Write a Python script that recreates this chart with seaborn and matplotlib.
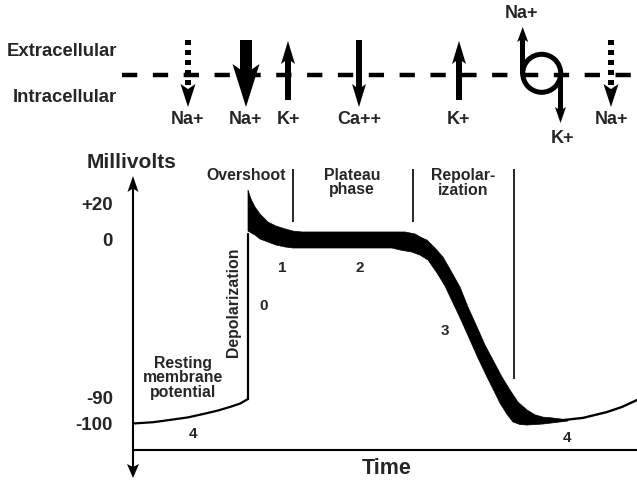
import matplotlib
matplotlib.use("Agg")
import matplotlib.pyplot as plt
import numpy as np
import seaborn as sns

sns.set_style("white")
plt.rcParams["font.family"] = ["Liberation Sans", "DejaVu Sans"]
plt.rcParams["font.weight"] = "bold"

# Membrane potential trace: time in ms from the y axis, voltage in mV
REST_T = [0, 20, 37, 55, 70, 85, 97, 107, 115]
REST_MV = [-100, -99.5, -98.6, -97.6, -96.3, -94.9, -93.5, -92.2, -90.4]
UPSTROKE_T = [115, 115]
UPSTROKE_MV = [-90.4, 3]
TOP_T = [115, 118, 122, 127, 135, 143, 152, 160, 169, 272, 282, 289, 294,
         302, 310, 318, 327, 335, 344, 352, 360, 369, 377, 385, 394, 402,
         410, 419, 427, 435]
TOP_MV = [27.2, 22.2, 17.8, 13.9, 9.4, 7.2, 5.6, 4.4, 3.9, 3.9, 2.8, 0.6, -0.6,
          -5.1, -10.2, -18.1, -27.2, -38.5, -49.8, -60.0, -68.5, -78.1, -85.5,
          -91.6, -94.7, -96.6, -97.5, -97.8, -98.2, -98.6]
BOTTOM_T = [115, 122, 127, 135, 143, 152, 160, 169, 259, 267, 279, 287, 295,
            304, 312, 320, 328, 337, 345, 354, 361, 367, 374, 380, 387, 394,
            410, 427, 435]
BOTTOM_MV = [4.4, 2.2, 0, -1.7, -3.4, -4.5, -5.1, -5.1, -5.1, -6.2, -7.4, -9.1,
             -11.9, -19.2, -26.6, -36.2, -45.8, -57.2, -67.4, -78.1, -86.0,
             -92.0, -96.4, -99.4, -100.4, -100.6, -100.2, -99.4, -99.0]
RECOVERY_T = [427, 450, 474, 489, 504]
RECOVERY_MV = [-98.8, -97.8, -95.5, -93.5, -90.8]

# phase boundaries (time) and how far down each marker reaches (mV)
DIVIDER_T = [160, 280, 381]
DIVIDER_LOW_MV = [9.4, 9.4, -79.2]
DIVIDER_HIGH_MV = 38.9

TICK_MV = [20, 0, -90, -100]
TICK_LABELS = ["+20", "0", "-90", "-100"]

# ion movements across the membrane
CHANNEL_IONS = ["Na+", "Na+", "K+", "Ca++", "K+", "Na+"]
CHANNEL_FLOW = ["in", "in", "out", "in", "out", "in"]
CHANNEL_STYLE = ["dotted", "thick", "solid", "solid", "solid", "dotted"]
PUMP_IONS = ["Na+", "K+"]

# the drawing is schematic: the mV axis is not evenly spaced
MV_KNOTS = np.array([-200, -100, -90, 0, 20, 200])
PX_KNOTS = np.array([678.5, 423.5, 398, 239, 203, -121])


def to_screen(v):
    return -np.interp(np.asarray(v, float), MV_KNOTS, PX_KNOTS)


def from_screen(h):
    return np.interp(-np.asarray(h, float), PX_KNOTS[::-1], MV_KNOTS[::-1])


fig = plt.figure(figsize=(6.37, 4.8), dpi=100)
ax = fig.add_axes([0, 0, 1, 1])
ax.set_yscale("function", functions=(to_screen, from_screen))
ax.set_xlim(-133, 504)
ax.set_ylim(float(from_screen(-480)), float(from_screen(0)))

sns.lineplot(x=REST_T, y=REST_MV, ax=ax, color="k", lw=1.6, sort=False, estimator=None)
sns.lineplot(x=UPSTROKE_T, y=UPSTROKE_MV, ax=ax, color="k", lw=1.6, sort=False, estimator=None)
ax.fill(TOP_T + BOTTOM_T[::-1], TOP_MV + BOTTOM_MV[::-1], color="k", lw=0.5, ec="k")
sns.lineplot(x=RECOVERY_T, y=RECOVERY_MV, ax=ax, color="k", lw=1.7, sort=False, estimator=None)
ax.vlines(DIVIDER_T, DIVIDER_LOW_MV, DIVIDER_HIGH_MV, color="k", lw=1.2)

for s in ["top", "right"]:
    ax.spines[s].set_visible(False)
ax.spines["left"].set_position(("data", 0))
ax.spines["left"].set_bounds(-118, 30)
ax.spines["bottom"].set_position(("data", -110.4))
ax.spines["bottom"].set_bounds(0, 504)
for s in ["left", "bottom"]:
    ax.spines[s].set_color("k")
    ax.spines[s].set_linewidth(1.5)
ax.set_xticks([])
ax.set_yticks(TICK_MV)
ax.set_yticklabels(TICK_LABELS, fontweight="bold")
ax.tick_params(axis="y", direction="out", length=8, width=1.4, pad=6.5,
               labelsize=13.5, color="k")

# overlay in pixel units for the membrane sketch and the labels
ov = fig.add_axes([0, 0, 1, 1])
ov.set_xlim(0, 637)
ov.set_ylim(480, 0)
ov.axis("off")
ov.patch.set_visible(False)


def flow_arrow(x, tail, tip, shaft, head_w, head_len, dotted=False):
    d = 1 if tip > tail else -1
    barb = tip - d * head_len
    back = barb + d * head_len * 0.22
    ov.fill([x, x - head_w / 2, x, x + head_w / 2], [tip, barb, back, barb],
            color="k", lw=0)
    if dotted:
        ov.plot([x, x], [tail, back], color="k", lw=shaft * 0.72,
                dashes=(5 / shaft, 5 / shaft))
    else:
        ov.fill([x - shaft / 2, x + shaft / 2, x + shaft / 2, x - shaft / 2],
                [tail, tail, back + d, back + d], color="k", lw=0)


def label(x, y, s, size, **kw):
    ov.text(x, y, s, ha=kw.pop("ha", "center"), va="center", fontsize=size,
            fontweight="bold", **kw)


# axis arrowheads
flow_arrow(133, 200, 176, 2, 11, 16)
flow_arrow(133, 452, 478, 2, 12, 14)

# membrane
ov.plot([122, 637], [74.5, 74.5], color="k", lw=3.2, dashes=(3.44, 3.5))

chan_x = [188, 246, 288, 359, 459, 611]
shape = {"dotted": (6, 15, 23), "thick": (12, 27, 43), "solid": (6, 14, 23)}
for x, ion, flow, style in zip(chan_x, CHANNEL_IONS, CHANNEL_FLOW, CHANNEL_STYLE):
    shaft, hw, hl = shape[style]
    if flow == "in":
        flow_arrow(x, 40, 107, shaft, hw, hl, dotted=style == "dotted")
    else:
        flow_arrow(x, 100, 41, shaft, hw, hl)
    label(x, 120, ion, 13)

# Na/K pump
flow_arrow(522.7, 74, 27, 5, 11, 15)
flow_arrow(560.5, 73, 123, 5, 11, 16)
ov.add_patch(plt.Circle((541.7, 73.3), 19, fill=False, lw=3.6, color="k"))
label(522, 13.5, PUMP_IONS[0], 13)
label(563, 138.5, PUMP_IONS[1], 13)

label(117, 52, "Extracellular", 13.3, ha="right")
label(117, 97, "Intracellular", 13.3, ha="right")

label(132, 162, "Millivolts", 15)
label(387, 468, "Time", 15.5)
label(246, 175, "Overshoot", 11.4)
label(352, 182.5, "Plateau\nphase", 11.4, linespacing=0.95)
label(463, 183, "Repolar-\nization", 11.4, linespacing=0.95)
label(233.5, 302.5, "Depolarization", 11.4, rotation=90)
label(183, 378, "Resting\nmembrane\npotential", 11.4, linespacing=0.95)
for s, (px, py) in zip(["0", "1", "2", "3", "4", "4"],
                       [(264, 306), (282, 268), (360, 268), (445, 331),
                        (193, 434), (567, 438)]):
    label(px, py, s, 11)

fig.savefig("out.png", dpi=100)
